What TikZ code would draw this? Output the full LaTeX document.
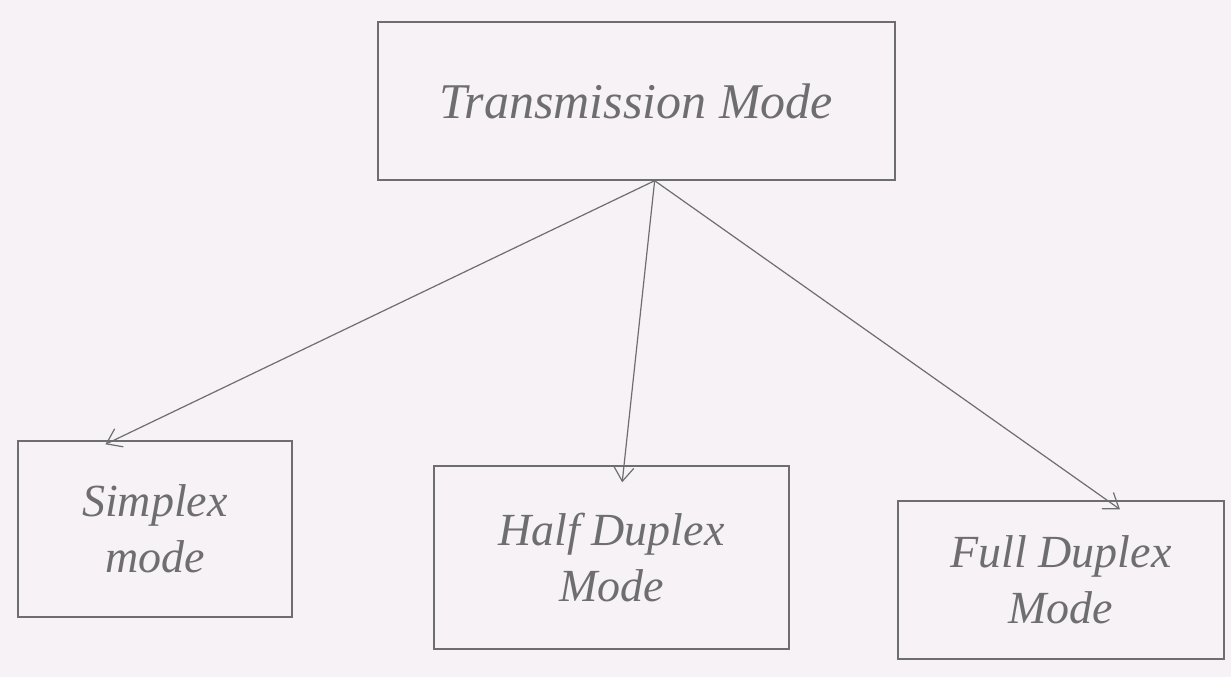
\documentclass[tikz,border=0pt]{standalone}
\usepackage{fontspec}
\setmainfont{Liberation Serif}
\usetikzlibrary{calc,arrows.meta}
\definecolor{paper}{HTML}{F6F2F5}
\definecolor{pencil}{HTML}{6E6E72}
\tikzset{
  box/.style={draw=pencil, line width=1.4pt, align=center, text=pencil, font=\itshape\fontsize{46}{56}\selectfont, inner sep=0pt},
  conn/.style={draw=pencil, line width=1.2pt, -{Straight Barb[length=14pt,width=20pt,line width=1.2pt]}}
}
\begin{document}
\begin{tikzpicture}[x=1pt,y=-1pt]
\fill[paper] (0,0) rectangle (1231,677);
\useasboundingbox (0,0) rectangle (1231,677);
\node[box, minimum width=517pt, minimum height=158pt, font=\itshape\fontsize{50}{56}\selectfont] (top) at (636.5,101) {Transmission Mode};
\node[box, minimum width=274pt, minimum height=176pt] (simplex) at (155,529) {Simplex\\mode};
\node[box, minimum width=355pt, minimum height=183pt] (half) at (611.5,557.5) {Half Duplex\\Mode};
\node[box, minimum width=326pt, minimum height=158pt] (full) at (1061,580) {Full Duplex\\Mode};
\coordinate (src) at ($(top.south west)!0.535!(top.south east)$);
\draw[conn] (src) -- ($(simplex.north west)!0.32!(simplex.north east)+(0,4)$);
\draw[conn] (src) -- ($(half.north west)!0.53!(half.north east)+(0,17)$);
\draw[conn] (src) -- ($(full.north west)!0.68!(full.north east)+(0,9)$);
\end{tikzpicture}
\end{document}
